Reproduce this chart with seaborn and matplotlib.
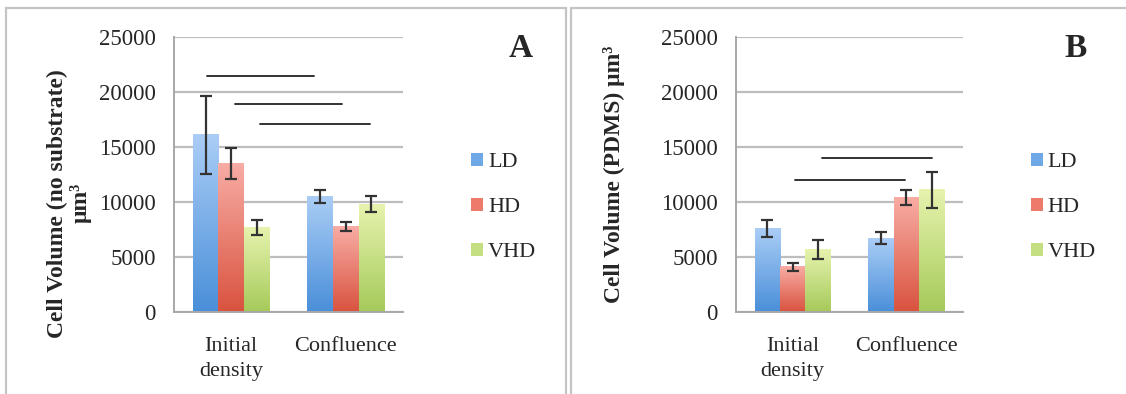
import numpy as np
import pandas as pd
import matplotlib
matplotlib.use("Agg")
import matplotlib.pyplot as plt
import seaborn as sns
from matplotlib.colors import LinearSegmentedColormap
from matplotlib.patches import Patch, Rectangle

stages = ["Initial\ndensity", "Confluence"]
densities = ["LD", "HD", "VHD"]

# panel A: no substrate
vol_a = {"LD": [16100, 10500], "HD": [13500, 7800], "VHD": [7700, 9800]}
err_a = {"LD": [3550, 550], "HD": [1400, 400], "VHD": [700, 750]}
# significance bars: (x start, x end, y) in category units
sig_a_x0 = [-0.21, 0.03, 0.25]
sig_a_x1 = [0.72, 0.97, 1.21]
sig_a_y = [21500, 18900, 17100]

# panel B: PDMS
vol_b = {"LD": [7600, 6700], "HD": [4100, 10400], "VHD": [5700, 11100]}
err_b = {"LD": [800, 550], "HD": [400, 700], "VHD": [850, 1600]}
sig_b_x0 = [0.02, 0.26]
sig_b_x1 = [0.99, 1.23]
sig_b_y = [12000, 14000]

bar_top = {"LD": "#aacdf6", "HD": "#f8aca4", "VHD": "#e6f3ae"}
bar_bot = {"LD": "#4a8fd9", "HD": "#d9533f", "VHD": "#a6ca5a"}
bar_mid = {"LD": "#6fa8e6", "HD": "#ec7b6c", "VHD": "#c4de82"}

sns.set_style("white")
plt.rcParams["font.family"] = ["Liberation Serif", "DejaVu Serif"]


def draw_panel(ax, vol, err, sx0, sx1, sy, ylabel, letter, letter_x, lab_xy):
    rows = []
    for d in densities:
        for s, v in zip(stages, vol[d]):
            rows.append({"stage": s, "density": d, "volume": v})
    df = pd.DataFrame(rows)
    sns.barplot(data=df, x="stage", y="volume", hue="density", order=stages,
                hue_order=densities, palette=bar_mid, errorbar=None,
                width=0.67, legend=False, ax=ax, zorder=2)
    grad = np.linspace(1, 0, 100).reshape(-1, 1)
    for d, cont in zip(densities, ax.containers):
        cmap = LinearSegmentedColormap.from_list(d, [bar_bot[d], bar_top[d]])
        xs = []
        for p in cont.patches:
            x, w, h = p.get_x(), p.get_width(), p.get_height()
            ax.imshow(grad, extent=[x, x + w, 0, h], aspect="auto", cmap=cmap,
                      vmin=0, vmax=1, zorder=2)
            p.set_visible(False)
            xs.append(x + w / 2)
        ax.errorbar(xs, vol[d], yerr=err[d], fmt="none", ecolor="#333333",
                    elinewidth=1.6, capsize=4.5, capthick=1.6, zorder=4)
    for a, b, y in zip(sx0, sx1, sy):
        ax.plot([a, b], [y, y], color="#222222", lw=1.3, zorder=5)

    ax.set_xlim(-0.5, 1.5)
    ax.set_ylim(0, 25000)
    ax.set_yticks(range(0, 25001, 5000))
    ax.yaxis.grid(True, color="#bdbdbd", lw=1.6)
    ax.set_axisbelow(True)
    for s in ["top", "right"]:
        ax.spines[s].set_visible(False)
    for s in ["left", "bottom"]:
        ax.spines[s].set_color("#a8a8a8")
        ax.spines[s].set_linewidth(1.4)
    ax.set_xticks([-0.5, 0.5, 1.5], minor=True)
    ax.tick_params(axis="x", which="major", length=0, pad=18, labelsize=16)
    for t in ax.get_xticklabels():
        t.set_linespacing(1.4)
    ax.tick_params(axis="x", which="minor", length=6, color="#a8a8a8", width=1.4)
    ax.tick_params(axis="y", length=6, color="#a8a8a8", width=1.4, labelsize=16.5, pad=7)
    ax.set_xlabel("")
    ax.set_ylabel(ylabel, fontsize=17, fontweight="bold", linespacing=1.1)
    ax.yaxis.set_label_coords(*lab_xy)
    ax.text(letter_x, 0.915, letter, transform=ax.figure.transFigure,
            fontsize=24, fontweight="bold", ha="center", va="top")
    handles = [Patch(facecolor=bar_mid[d], edgecolor="none") for d in densities]
    ax.legend(handles, densities, loc="center left", bbox_to_anchor=(1.21, 0.38),
              frameon=False, fontsize=16, handlelength=0.55, handleheight=0.55,
              handletextpad=0.2, labelspacing=1.15)


fig = plt.figure(figsize=(11.26, 3.94), dpi=100)
ax1 = fig.add_axes([0.1545, 0.208, 0.2035, 0.698])
ax2 = fig.add_axes([0.6536, 0.208, 0.2016, 0.698])

draw_panel(ax1, vol_a, err_a, sig_a_x0, sig_a_x1, sig_a_y,
           "Cell Volume (no substrate)\nμm³", "A", 0.462, (-0.36, 0.396))
draw_panel(ax2, vol_b, err_b, sig_b_x0, sig_b_x1, sig_b_y,
           "Cell Volume (PDMS) μm³", "B", 0.955, (-0.49, 0.5))

# panel frames
fig.patches.append(Rectangle((6 / 1126, -0.1), 560 / 1126, 1.1 - 8 / 394,
                             transform=fig.transFigure, fill=False,
                             edgecolor="#c4c4c4", lw=1.6))
fig.patches.append(Rectangle((571 / 1126, -0.1), 0.6, 1.1 - 8 / 394,
                             transform=fig.transFigure, fill=False,
                             edgecolor="#c4c4c4", lw=1.6))

fig.savefig("out.png", dpi=100)
